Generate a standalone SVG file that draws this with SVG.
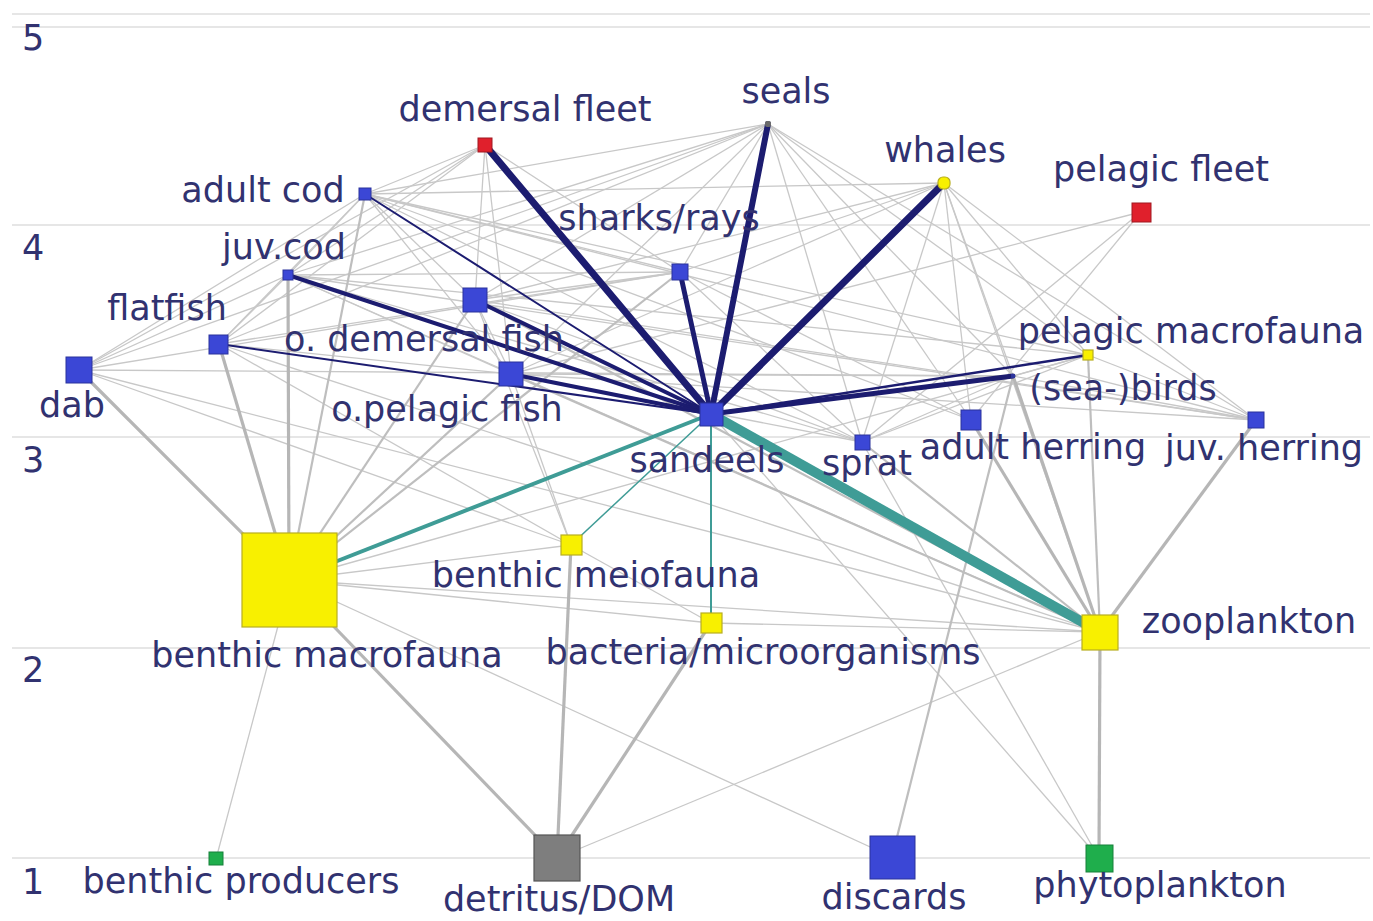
<svg xmlns="http://www.w3.org/2000/svg" width="1373" height="921" viewBox="0 0 1373 921">
<style>
.grid{stroke:#e6e6e6;stroke-width:2.2;fill:none}
.g1{stroke:#c8c8c8;stroke-width:1.3;fill:none}
.g2{stroke:#bebebe;stroke-width:2.2;fill:none}
.g3{stroke:#b6b6b6;stroke-width:3.2;fill:none}
.tl{stroke:#3f9c96;fill:none}
.nv{stroke:#1c1c70;fill:none;stroke-linecap:round}
.lab{font-family:"DejaVu Sans",Verdana,sans-serif;font-size:35px;fill:#313270;text-anchor:middle}
.lev{font-family:"DejaVu Sans",Verdana,sans-serif;font-size:35px;fill:#313270}
.blue{fill:#3b47d6;stroke:#2b339c;stroke-width:1}
.yel{fill:#f8f000;stroke:#b8ae20;stroke-width:1.2}
.red{fill:#e0202c;stroke:#a01820;stroke-width:1}
.grn{fill:#1fae4c;stroke:#17803a;stroke-width:1}
.gry{fill:#7e7e7e;stroke:#555;stroke-width:1.2}
</style>
<rect width="1373" height="921" fill="#ffffff"/>
<g id="gridlines">
<line class="grid" x1="12" y1="14" x2="1370" y2="14" stroke-width="3"/>
<line class="grid" x1="12" y1="27" x2="1370" y2="27" stroke="#f0f0f0"/>
<line class="grid" x1="12" y1="225" x2="1370" y2="225"/>
<line class="grid" x1="12" y1="437" x2="1370" y2="437"/>
<line class="grid" x1="12" y1="648" x2="1370" y2="648"/>
<line class="grid" x1="12" y1="858" x2="1370" y2="858"/>
<text class="lev" x="22" y="50">5</text>
<text class="lev" x="22" y="260">4</text>
<text class="lev" x="22" y="472">3</text>
<text class="lev" x="22" y="682">2</text>
<text class="lev" x="22" y="894">1</text>
</g>
<g id="connectors">
<!-- thin gray -->
<line class="g1" x1="485" y1="145" x2="365" y2="194"/>
<line class="g1" x1="485" y1="145" x2="288" y2="275"/>
<line class="g1" x1="485" y1="145" x2="79" y2="370"/>
<line class="g1" x1="485" y1="145" x2="219" y2="344"/>
<line class="g1" x1="485" y1="145" x2="475" y2="300"/>
<line class="g1" x1="485" y1="145" x2="680" y2="272"/>
<line class="g1" x1="485" y1="145" x2="511" y2="374"/>
<line class="g1" x1="768" y1="124" x2="365" y2="194"/>
<line class="g1" x1="768" y1="124" x2="288" y2="275"/>
<line class="g1" x1="768" y1="124" x2="219" y2="344"/>
<line class="g1" x1="768" y1="124" x2="79" y2="370"/>
<line class="g1" x1="768" y1="124" x2="475" y2="300"/>
<line class="g1" x1="768" y1="124" x2="511" y2="374"/>
<line class="g1" x1="768" y1="124" x2="680" y2="272"/>
<line class="g1" x1="768" y1="124" x2="971" y2="420"/>
<line class="g1" x1="768" y1="124" x2="862" y2="442"/>
<line class="g1" x1="768" y1="124" x2="1256" y2="420"/>
<line class="g1" x1="768" y1="124" x2="1088" y2="355"/>
<line class="g1" x1="768" y1="124" x2="1013" y2="376"/>
<line class="g1" x1="944" y1="183" x2="971" y2="420"/>
<line class="g1" x1="944" y1="183" x2="862" y2="442"/>
<line class="g1" x1="944" y1="183" x2="1256" y2="420"/>
<line class="g1" x1="944" y1="183" x2="1088" y2="355"/>
<line class="g1" x1="944" y1="183" x2="1100" y2="632"/>
<line class="g1" x1="944" y1="183" x2="511" y2="374"/>
<line class="g1" x1="944" y1="183" x2="475" y2="300"/>
<line class="g1" x1="944" y1="183" x2="365" y2="194"/>
<line class="g1" x1="944" y1="183" x2="1013" y2="376"/>
<line class="g1" x1="944" y1="183" x2="680" y2="272"/>
<line class="g1" x1="1141" y1="212" x2="971" y2="420"/>
<line class="g1" x1="1141" y1="212" x2="862" y2="442"/>
<line class="g1" x1="1141" y1="212" x2="511" y2="374"/>
<line class="g1" x1="365" y1="194" x2="288" y2="275"/>
<line class="g1" x1="365" y1="194" x2="79" y2="370"/>
<line class="g1" x1="365" y1="194" x2="219" y2="344"/>
<line class="g1" x1="365" y1="194" x2="475" y2="300"/>
<line class="g1" x1="365" y1="194" x2="511" y2="374"/>
<line class="g1" x1="365" y1="194" x2="971" y2="420"/>
<line class="g1" x1="365" y1="194" x2="862" y2="442"/>
<line class="g1" x1="365" y1="194" x2="1256" y2="420"/>
<line class="g1" x1="365" y1="194" x2="1088" y2="355"/>
<line class="g1" x1="365" y1="194" x2="680" y2="272"/>
<line class="g1" x1="288" y1="275" x2="79" y2="370"/>
<line class="g1" x1="288" y1="275" x2="219" y2="344"/>
<line class="g1" x1="288" y1="275" x2="1100" y2="632"/>
<line class="g1" x1="288" y1="275" x2="862" y2="442"/>
<line class="g1" x1="288" y1="275" x2="1256" y2="420"/>
<line class="g1" x1="288" y1="275" x2="511" y2="374"/>
<line class="g1" x1="288" y1="275" x2="1088" y2="355"/>
<line class="g1" x1="680" y1="272" x2="288" y2="275"/>
<line class="g1" x1="680" y1="272" x2="79" y2="370"/>
<line class="g1" x1="680" y1="272" x2="219" y2="344"/>
<line class="g1" x1="680" y1="272" x2="475" y2="300"/>
<line class="g1" x1="680" y1="272" x2="971" y2="420"/>
<line class="g1" x1="680" y1="272" x2="862" y2="442"/>
<line class="g1" x1="475" y1="300" x2="571" y2="545"/>
<line class="g1" x1="475" y1="300" x2="862" y2="442"/>
<line class="g1" x1="475" y1="300" x2="1256" y2="420"/>
<line class="g1" x1="475" y1="300" x2="511" y2="374"/>
<line class="g1" x1="219" y1="344" x2="571" y2="545"/>
<line class="g1" x1="219" y1="344" x2="1100" y2="632"/>
<line class="g1" x1="219" y1="344" x2="511" y2="374"/>
<line class="g1" x1="79" y1="370" x2="1100" y2="632"/>
<line class="g1" x1="79" y1="370" x2="571" y2="545"/>
<line class="g1" x1="79" y1="370" x2="1013" y2="376"/>
<line class="g1" x1="511" y1="374" x2="1256" y2="420"/>
<line class="g1" x1="511" y1="374" x2="862" y2="442"/>
<line class="g1" x1="511" y1="374" x2="571" y2="545"/>
<line class="g1" x1="1013" y1="376" x2="862" y2="442"/>
<line class="g1" x1="1013" y1="376" x2="1256" y2="420"/>
<line class="g1" x1="1013" y1="376" x2="1088" y2="355"/>
<line class="g1" x1="1013" y1="376" x2="511" y2="374"/>
<line class="g1" x1="1088" y1="355" x2="862" y2="442"/>
<line class="g1" x1="1088" y1="355" x2="1256" y2="420"/>
<line class="g1" x1="862" y1="442" x2="1099" y2="858"/>
<line class="g1" x1="711" y1="414" x2="1099" y2="858" stroke="#a9bdbc"/>
<line class="g1" x1="1100" y1="632" x2="557" y2="858"/>
<line class="g1" x1="1100" y1="632" x2="711" y2="623"/>
<line class="g1" x1="289" y1="580" x2="711" y2="623"/>
<line class="g1" x1="289" y1="580" x2="571" y2="545"/>
<line class="g1" x1="278" y1="626" x2="216" y2="859" stroke-width="1"/>
<line class="g1" x1="289" y1="580" x2="892" y2="857"/>
<line class="g1" x1="289" y1="580" x2="1100" y2="632"/>
<line class="g1" x1="289" y1="580" x2="1088" y2="355"/>
<line class="g1" x1="571" y1="545" x2="711" y2="623"/>
<!-- medium gray -->
<line class="g2" x1="289" y1="580" x2="365" y2="194"/>
<line class="g2" x1="289" y1="580" x2="475" y2="300"/>
<line class="g2" x1="289" y1="580" x2="511" y2="374"/>
<line class="g2" x1="289" y1="580" x2="680" y2="272"/>
<line class="g2" x1="1100" y1="632" x2="862" y2="442"/>
<line class="g2" x1="1100" y1="632" x2="1088" y2="355"/>
<line class="g2" x1="1100" y1="632" x2="511" y2="374"/>
<line class="g2" x1="1100" y1="632" x2="475" y2="300"/>
<line class="g2" x1="892" y1="857" x2="1013" y2="376"/>
<!-- thick gray -->
<line class="g3" x1="289" y1="580" x2="79" y2="370"/>
<line class="g3" x1="289" y1="580" x2="219" y2="344"/>
<line class="g3" x1="289" y1="580" x2="288" y2="275"/>
<line class="g3" x1="289" y1="580" x2="557" y2="858"/>
<line class="g3" x1="557" y1="858" x2="571" y2="545"/>
<line class="g3" x1="557" y1="858" x2="711" y2="623"/>
<line class="g3" x1="1100" y1="632" x2="1099" y2="858"/>
<line class="g3" x1="1100" y1="632" x2="1256" y2="420"/>
<line class="g3" x1="1100" y1="632" x2="971" y2="420"/>
<line class="g3" x1="1100" y1="632" x2="1013" y2="376"/>
<!-- teal -->
<line class="tl" x1="711" y1="414" x2="1100" y2="632" stroke-width="10"/>
<line class="tl" x1="711" y1="414" x2="289" y2="580" stroke-width="4"/>
<line class="tl" x1="711" y1="414" x2="711" y2="623" stroke-width="2"/>
<line class="tl" x1="711" y1="414" x2="571" y2="545" stroke-width="1.5"/>
<!-- navy -->
<line class="nv" x1="711" y1="414" x2="485" y2="145" stroke-width="7"/>
<line class="nv" x1="711" y1="414" x2="768" y2="124" stroke-width="6"/>
<line class="nv" x1="711" y1="414" x2="944" y2="183" stroke-width="7"/>
<line class="nv" x1="711" y1="414" x2="680" y2="272" stroke-width="5"/>
<line class="nv" x1="711" y1="414" x2="288" y2="275" stroke-width="4"/>
<line class="nv" x1="711" y1="414" x2="365" y2="194" stroke-width="2"/>
<line class="nv" x1="711" y1="414" x2="475" y2="300" stroke-width="4"/>
<line class="nv" x1="711" y1="414" x2="511" y2="374" stroke-width="4"/>
<line class="nv" x1="711" y1="414" x2="219" y2="344" stroke-width="2"/>
<line class="nv" x1="711" y1="414" x2="1013" y2="376" stroke-width="5"/>
<line class="nv" x1="711" y1="414" x2="1088" y2="355" stroke-width="2.5"/>
</g>
<g id="demersal-fleet"><rect class="red" x="478" y="138" width="14" height="14"/><text class="lab" x="525" y="121">demersal fleet</text></g>
<g id="seals"><rect x="765" y="121" width="6" height="6" rx="2" fill="#6a6a6a"/><text class="lab" x="786" y="103">seals</text></g>
<g id="whales"><rect class="yel" x="938" y="177" width="12" height="12" rx="5"/><text class="lab" x="945" y="162">whales</text></g>
<g id="pelagic-fleet"><rect class="red" x="1132" y="203" width="19" height="19"/><text class="lab" x="1161" y="181">pelagic fleet</text></g>
<g id="adult-cod"><rect class="blue" x="359" y="188" width="12" height="12"/><text class="lab" x="263" y="202">adult cod</text></g>
<g id="juv-cod"><rect class="blue" x="283" y="270" width="10" height="10"/><text class="lab" x="284" y="259">juv.cod</text></g>
<g id="sharks-rays"><rect class="blue" x="672" y="264" width="16" height="16"/><text class="lab" x="659" y="230">sharks/rays</text></g>
<g id="o-demersal-fish"><rect class="blue" x="463" y="288" width="24" height="24"/><text class="lab" x="424" y="351">o. demersal fish</text></g>
<g id="flatfish"><rect class="blue" x="209" y="335" width="19" height="19"/><text class="lab" x="167" y="320">flatfish</text></g>
<g id="dab"><rect class="blue" x="66" y="357" width="26" height="26"/><text class="lab" x="72" y="417">dab</text></g>
<g id="o-pelagic-fish"><rect class="blue" x="499" y="362" width="24" height="24"/><text class="lab" x="447" y="421">o.pelagic fish</text></g>
<g id="sandeels"><rect class="blue" x="700" y="403" width="23" height="23"/><text class="lab" x="707" y="472">sandeels</text></g>
<g id="pelagic-macrofauna"><rect class="yel" x="1083" y="350" width="10" height="10"/><text class="lab" x="1191" y="343">pelagic macrofauna</text></g>
<g id="sea-birds"><rect x="1011" y="374" width="4" height="4" fill="#2b339c"/><text class="lab" x="1123" y="400">(sea-)birds</text></g>
<g id="adult-herring"><rect class="blue" x="961" y="410" width="20" height="20"/><text class="lab" x="1033" y="459">adult herring</text></g>
<g id="juv-herring"><rect class="blue" x="1248" y="412" width="16" height="16"/><text class="lab" x="1264" y="460">juv. herring</text></g>
<g id="sprat"><rect class="blue" x="855" y="435" width="15" height="15"/><text class="lab" x="867" y="475">sprat</text></g>
<g id="benthic-macrofauna"><rect class="yel" x="242" y="533" width="95" height="94"/><text class="lab" x="327" y="667">benthic macrofauna</text></g>
<g id="benthic-meiofauna"><rect class="yel" x="561" y="535" width="21" height="20"/><text class="lab" x="596" y="587">benthic meiofauna</text></g>
<g id="bacteria-microorganisms"><rect class="yel" x="701" y="613" width="21" height="20"/><text class="lab" x="763" y="664">bacteria/microorganisms</text></g>
<g id="zooplankton"><rect class="yel" x="1082" y="615" width="36" height="35"/><text class="lab" x="1249" y="633">zooplankton</text></g>
<g id="benthic-producers"><rect class="grn" x="209" y="852" width="14" height="13"/><text class="lab" x="241" y="893">benthic producers</text></g>
<g id="detritus-dom"><rect class="gry" x="534" y="835" width="46" height="46"/><text class="lab" x="559" y="911">detritus/DOM</text></g>
<g id="discards"><rect class="blue" x="870" y="836" width="45" height="43"/><text class="lab" x="894" y="909">discards</text></g>
<g id="phytoplankton"><rect class="grn" x="1086" y="845" width="27" height="27"/><text class="lab" x="1160" y="897">phytoplankton</text></g>
</svg>
